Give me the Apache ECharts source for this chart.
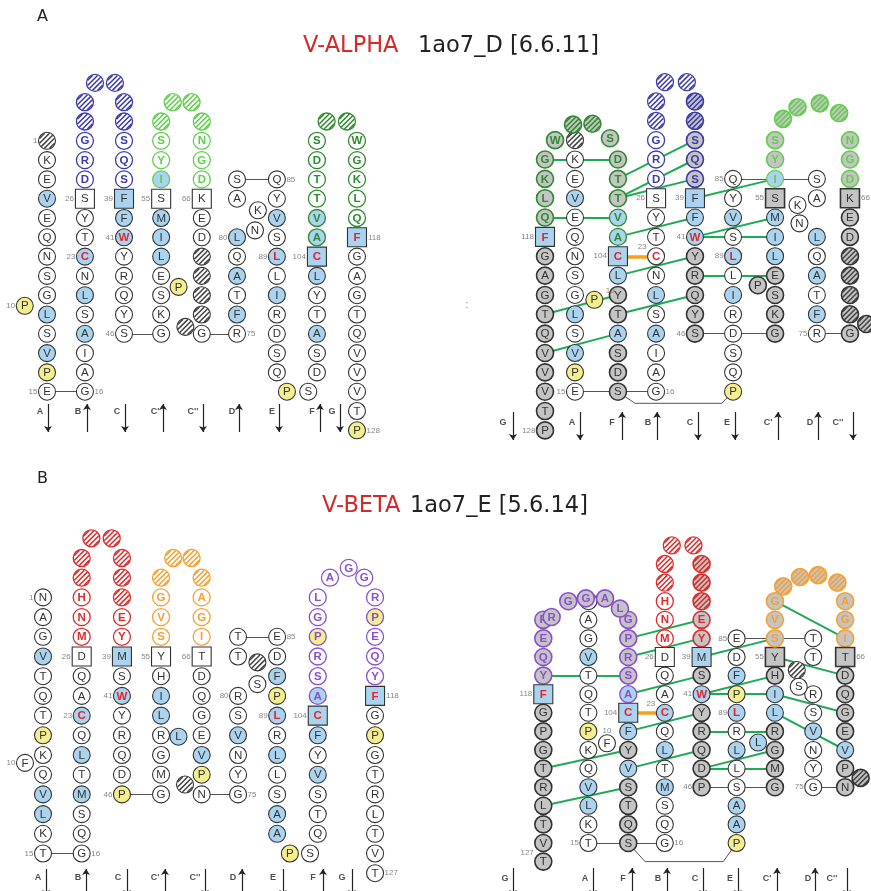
<!DOCTYPE html>
<html><head><meta charset="utf-8">
<script src="https://cdn.jsdelivr.net/npm/echarts@6/dist/echarts.min.js"></script>
<style>html,body{margin:0;padding:0;background:#fff}#c{width:871px;height:891px}</style>
</head><body><div id="c"></div>
<script>
// ================= DATA =================
// CDR colours (CDR1, CDR2, CDR3)
const alphaCdrColors = ['#3b3bab', '#5fcf4c', '#2e8b2e'];
const betaCdrColors  = ['#dd2a2a', '#f5a030', '#8b4fcf'];

// runs: [strand, startRow, direction, sequence, classes, cdr]
// classes: . white, b hydrophobic (blue), y proline (yellow), g front-sheet (grey), h/H gap (hatched),
//          r/R conserved (red letter), q/Q/B/G anchor squares
const alphaLeftRuns = [
  ['A', 13, -1, '#KEVEQNSGLSVPE', 'h..b.....b.by.', 0],
  ['B', 0, 1, 'GAIASLNCTYS', '...b.b.r..q', 0],
  ['B', 11, 1, 'DRG##', '...hh', 1],
  ['C', 15, -1, '##SQS', 'hh...', 1],
  ['C', 10, -1, 'FFWYRQYS', 'Bbr.....', 0],
  ['C1', 3, 1, 'GKSELIMS', '....bbbq', 0],
  ['C1', 11, 1, 'IYS#', 'b..h', 2],
  ['C2', 14, -1, '#NGD', 'h...', 2],
  ['C2', 10, -1, 'KED####G', 'q..hhhh.', 0],
  ['D', 3, 1, 'RFTAQL', '.b.b.b', 0],
  ['D', 10, 1, 'AS', '..', 0],
  ['E', 11, -1, 'QYVSLLIRDSQ', '..b.r.b....', 0],
  ['F', 1, 1, 'DSATYLC', '..b..bQ', 0],
  ['F', 8, 1, 'AVTTDS', 'bb....', 3],
  ['G', 13, -1, 'WGKLQ', '.....', 3],
  ['G', 8, -1, 'FGAGTQVVVTP', 'Q.........y', 0]
];
// extras: [strand, dx, row, letter, class, cdr, key]
const alphaLeftExtras = [
  ['A', -1.15, 4.45, 'P', 'y', 0, 'P10'],
  ['B', 0.52, 16, '#', 'h', 1], ['B', 1.55, 16, '#', 'h', 1],
  ['C1', 0.6, 15, '#', 'h', 2], ['C1', 1.57, 15, '#', 'h', 2],
  ['C1', 0.9, 5.43, 'P', 'y', 0], ['C1', 1.25, 3.36, '#', 'h', 0],
  ['D', 0.93, 8.36, 'N', '.', 0], ['D', 1.08, 9.4, 'K', '.', 0],
  ['E', 0.52, 0, 'P', 'y', 0], ['E', 1.62, 0, 'S', '.', 0],
  ['F', 0.5, 14, '#', 'h', 3], ['F', 1.55, 14, '#', 'h', 3]
];
const alphaLeftLinks = [['A:0', 'B:0'], ['C:3', 'C1:3'], ['C2:3', 'D:3'], ['D:11', 'E:11']];
const alphaLeftNums = [
  ['A:13', '1', 'l'], ['P10', '10', 'l'], ['A:0', '15', 'l'], ['B:0', '16', 'r'], ['B:7', '23', 'l'],
  ['B:10', '26', 'l'], ['C:10', '39', 'l'], ['C:8', '41', 'l'], ['C:3', '46', 'l'], ['C1:10', '55', 'l'],
  ['C2:10', '66', 'l'], ['D:8', '80', 'l'], ['D:3', '75', 'r'], ['E:11', '85', 'r'], ['E:7', '89', 'l'],
  ['F:7', '104', 'l'], ['G:8', '118', 'r'], ['G:-2', '128', 'r']
];

const alphaRightRuns = [
  ['A', 13, -1, '#KEVEQNSGLSVPE', 'h..b.....b.by.', 0],
  ['B', 0, 1, 'GAIASLNCTYS', '...b.b.R..q', 0],
  ['B', 11, 1, 'DRG##', '...hh', 1],
  ['C', 15, -1, '##SQS', 'HHggg', 1],
  ['C', 10, -1, 'FFWYRQYS', 'Bbrggggg', 0],
  ['C1', 3, 1, 'GKSELIMS', 'ggggbbbG', 0],
  ['C1', 11, 1, 'IYS', 'bgg', 2],
  ['C2', 13, -1, 'NGD', 'ggg', 2],
  ['C2', 10, -1, 'KED####G', 'GggHHHHg', 0],
  ['D', 3, 1, 'RFTAQL', '.b.b.b', 0],
  ['D', 10, 1, 'AS', '..', 0],
  ['E', 11, -1, 'QYVSLLIRDSQP', '..b.r.b....y', 0],
  ['F', 0, 1, 'SDSATYLC', 'gggbggbQ', 0],
  ['F', 8, 1, 'AVTTD', 'bbggg', 3],
  ['G', 12, -1, 'GKLQ', 'gggg', 3],
  ['G', 8, -1, 'FGAGTQVVVTP', 'Qgggggggggg', 0]
];
const alphaRightExtras = [
  ['A', 1.0, 4.75, 'P', 'y', 0, 'P10'],
  ['B', 0.46, 16, '#', 'h', 1], ['B', 1.59, 16, '#', 'h', 1],
  ['C1', 0.41, 14.1, '#', 'H', 2], ['C1', 1.16, 14.7, '#', 'H', 2], ['C1', 2.31, 14.9, '#', 'H', 2], ['C1', 3.31, 14.4, '#', 'H', 2],
  ['C1', -0.89, 5.5, 'P', 'g', 0], ['C2', 0.84, 3.5, '#', 'H', 0],
  ['D', -0.9, 8.7, 'N', '.', 0], ['D', -1.0, 9.65, 'K', '.', 0],
  ['F', -0.41, 13.1, 'S', 'g', 3],
  ['G', 0.52, 13, 'W', 'g', 3], ['G', 1.45, 13.8, '#', 'H', 3], ['G', 2.45, 13.85, '#', 'H', 3]
];
const alphaRightLinks = [['A:0', 'B:0'], ['C:3', 'C1:3'], ['D:3', 'C2:3'], ['D:11', 'E:11']];
const alphaRightBracket = ['F:0', 'E:0', 0.88, -0.59, -0.6];
const alphaRightHBonds = [
  ['G:12', 'F:12'], ['G:9', 'F:9'], ['G:4', 'F:5'], ['G:2', 'F:3'],
  ['F:11', 'C:13'], ['F:10', 'C:12'], ['F:10', 'C:11'], ['F:8', 'C:9'], ['F:6', 'C:7'], ['F:4', 'C:5'],
  ['C:10', 'C1:11'], ['C:8', 'C1:9'], ['C:8', 'C1:8'], ['C:6', 'C1:6']
];
const alphaRightSS = [['F:7', 'B:7']];
const alphaRightNums = [
  ['P10', '10', 'tr'], ['A:0', '15', 'l'], ['B:0', '16', 'r'], ['B:7', '23', 'tl'], ['B:10', '26', 'l'],
  ['C:10', '39', 'l'], ['C:8', '41', 'l'], ['C:3', '46', 'l'], ['E:11', '85', 'l'], ['E:7', '89', 'l'],
  ['F:7', '104', 'l'], ['G:8', '118', 'l'], ['G:-2', '128', 'l'], ['C1:10', '55', 'l'], ['C2:10', '66', 'r'], ['D:3', '75', 'l']
];

const betaLeftRuns = [
  ['A', 13, -1, 'NAGVTQTPKQVLKT', '...b...y..bb..', 0],
  ['B', 0, 1, 'GQSMTLQCAQD', '...b.b.r..q', 0],
  ['B', 11, 1, 'MNH##', '...hh', 1],
  ['C', 15, -1, '###EY', 'hhh..', 1],
  ['C', 10, -1, 'MSWYRQDP', 'B.r....y', 0],
  ['C1', 3, 1, 'GMGRLIHY', '....bb.q', 0],
  ['C1', 11, 1, 'SVG#', '...h', 2],
  ['C2', 14, -1, '#AGI', 'h...', 2],
  ['C2', 10, -1, 'TDQGEVPN', 'q....by.', 0],
  ['D', 3, 1, 'GYNVSR', '...b..', 0],
  ['D', 10, 1, 'TT', '..', 0],
  ['E', 11, -1, 'EDFPLRLLSAA', '..byr.b..bb', 0],
  ['F', 1, 1, 'QTSVYFC', '...b.bQ', 0],
  ['F', 8, 1, 'ASRPGL', 'b..y..', 3],
  ['G', 13, -1, 'RPEQY', '.y...', 3],
  ['G', 8, -1, 'FGPGTRLTVT', 'Q.y.......', 0]
];
const betaLeftExtras = [
  ['A', -0.93, 4.6, 'F', '.', 0, 'F10'],
  ['B', 0.5, 16, '#', 'h', 1], ['B', 1.55, 16, '#', 'h', 1],
  ['C1', 0.63, 15, '#', 'h', 2], ['C1', 1.58, 15, '#', 'h', 2],
  ['C1', 0.9, 5.93, 'L', 'b', 0], ['C1', 1.24, 3.5, '#', 'h', 0],
  ['D', 1.0, 8.6, 'S', '.', 0], ['D', 1.0, 9.7, '#', 'h', 0],
  ['E', 0.66, 0, 'P', 'y', 0], ['E', 1.7, 0, 'S', '.', 0],
  ['F', 0.63, 14, 'A', '.', 3], ['F', 1.6, 14.5, 'G', '.', 3], ['F', 2.4, 14, 'G', '.', 3]
];
const betaLeftLinks = [['A:0', 'B:0'], ['C:3', 'C1:3'], ['C2:3', 'D:3'], ['D:11', 'E:11']];
const betaLeftNums = [
  ['A:13', '1', 'l'], ['F10', '10', 'l'], ['A:0', '15', 'l'], ['B:0', '16', 'r'], ['B:7', '23', 'l'],
  ['B:10', '26', 'l'], ['C:10', '39', 'l'], ['C:8', '41', 'l'], ['C:3', '46', 'l'], ['C1:10', '55', 'l'],
  ['C2:10', '66', 'l'], ['D:8', '80', 'l'], ['D:3', '75', 'r'], ['E:11', '85', 'r'], ['E:7', '89', 'l'],
  ['F:7', '104', 'l'], ['G:8', '118', 'r'], ['G:-1', '127', 'r']
];

const betaRightRuns = [
  ['A', 13, -1, 'NAGVTQTPKQVLKT', '...b...y..bb..', 0],
  ['B', 0, 1, 'GQSMTLQCAQD', '...b.b.r..q', 0],
  ['B', 11, 1, 'MNH##', '...hh', 1],
  ['C', 15, -1, '###EY', 'HHHgg', 1],
  ['C', 10, -1, 'MSWYRQDP', 'Bgrggggg', 0],
  ['C1', 3, 1, 'GMGRLIHY', 'ggggbbgG', 0],
  ['C1', 11, 1, 'SVG', 'ggg', 2],
  ['C2', 13, -1, 'AGI', 'ggg', 2],
  ['C2', 10, -1, 'TDQGEVPN', 'Gggggbgg', 0],
  ['D', 3, 1, 'GYNVSR', '...b..', 0],
  ['D', 10, 1, 'TT', '..', 0],
  ['E', 11, -1, 'EDFPLRLLSAAP', '..byr.b..bby', 0],
  ['F', 0, 1, 'SQTSVYFC', 'ggggbgbQ', 0],
  ['F', 8, 1, 'ASRPG', 'bgggg', 3],
  ['G', 12, -1, 'PEQY', 'gggg', 3],
  ['G', 8, -1, 'FGPGTRLTVT', 'Qggggggggg', 0]
];
const betaRightExtras = [
  ['A', 0.96, 5.36, 'F', '.', 0, 'F10'],
  ['B', 0.36, 16, '#', 'h', 1], ['B', 1.48, 16, '#', 'h', 1],
  ['C1', 0.43, 13.8, '#', 'H', 2], ['C1', 1.3, 14.3, '#', 'H', 2], ['C1', 2.23, 14.4, '#', 'H', 2], ['C1', 3.23, 14.0, '#', 'H', 2],
  ['C1', -0.87, 5.4, 'L', 'b', 0], ['C2', 0.8, 3.5, '#', 'H', 0],
  ['D', -0.75, 8.4, 'S', '.', 0], ['D', -0.85, 9.3, '#', 'h', 0],
  ['G', 0.43, 12.15, 'R', 'g', 3], ['G', 1.29, 13.0, 'G', 'g', 3], ['G', 2.2, 13.15, 'G', 'g', 3],
  ['G', 3.19, 13.15, 'A', 'g', 3], ['G', 3.96, 12.6, 'L', 'g', 3]
];
const betaRightLinks = [['A:0', 'B:0'], ['C:3', 'C1:3'], ['D:3', 'C2:3'], ['D:11', 'E:11']];
const betaRightBracket = ['F:0', 'E:0', 0.87, -0.69, -1.0];
const betaRightHBonds = [
  ['G:9', 'F:9'], ['G:4', 'F:5'], ['G:2', 'F:3'],
  ['F:11', 'C:12'], ['F:10', 'C:11'], ['F:8', 'C:9'], ['F:6', 'C:7'], ['F:4', 'C:5'],
  ['C:10', 'C1:11'], ['C:8', 'C1:9'], ['C:8', 'C1:8'], ['C:6', 'C1:6'], ['C:4', 'C1:5'], ['C:4', 'C1:4'],
  ['C1:13', 'C2:11'], ['C1:10', 'C2:9'], ['C1:8', 'C2:7'], ['C1:7', 'C2:5']
];
const betaRightSS = [['F:7', 'B:7']];
const betaRightNums = [
  ['F10', '10', 't'], ['A:0', '15', 'l'], ['B:0', '16', 'r'], ['B:7', '23', 'tl'], ['B:10', '26', 'l'],
  ['C:10', '39', 'l'], ['C:8', '41', 'l'], ['C:3', '46', 'l'], ['E:11', '85', 'l'], ['E:7', '89', 'l'],
  ['F:7', '104', 'l'], ['G:8', '118', 'l'], ['G:-1', '127', 'tl'], ['C1:10', '55', 'l'], ['C2:10', '66', 'r'], ['D:3', '75', 'l']
];

// strand axis labels: [label, direction]
const leftStrandOrder  = [['A', -1], ['B', 1], ['C', -1], ["C'", 1], ["C''", -1], ['D', 1], ['E', -1], ['F', 1], ['G', -1]];
const rightStrandOrder = [['G', -1], ['A', -1], ['F', 1], ['B', 1], ['C', -1], ['E', -1], ["C'", 1], ['D', 1], ["C''", -1]];

const panelLetters = ['A', 'B'];
const chainNames = ['V-ALPHA', 'V-BETA'];
const chainIds = ['1ao7_D [6.6.11]', '1ao7_E [5.6.14]'];

// ================= LAYOUT =================
const U = 19.35;
const panels = [
  { runs: alphaLeftRuns, extras: alphaLeftExtras, cdr: alphaCdrColors, links: alphaLeftLinks, hb: [], ss: [], bracket: null, nums: alphaLeftNums,
    ox: 47, oy: 391.7, ux: U, uy: 19.3,
    cols: { A: 0, B: 1.96, C: 3.98, C1: 5.9, C2: 8, D: 9.82, E: 11.88, F: 13.95, G: 16.02 } },
  { runs: alphaRightRuns, extras: alphaRightExtras, cdr: alphaCdrColors, links: alphaRightLinks, hb: alphaRightHBonds, ss: alphaRightSS, bracket: alphaRightBracket, nums: alphaRightNums,
    ox: 545, oy: 391.7, ux: U, uy: 19.35,
    cols: { G: 0, A: 1.55, F: 3.77, B: 5.74, C: 7.75, E: 9.72, C1: 11.89, D: 14.05, C2: 15.76 } },
  { runs: betaLeftRuns, extras: betaLeftExtras, cdr: betaCdrColors, links: betaLeftLinks, hb: [], ss: [], bracket: null, nums: betaLeftNums,
    ox: 43, oy: 853.5, ux: U, uy: 19.7,
    cols: { A: 0, B: 2.0, C: 4.08, C1: 6.1, C2: 8.2, D: 10.08, E: 12.1, F: 14.2, G: 17.16 } },
  { runs: betaRightRuns, extras: betaRightExtras, cdr: betaCdrColors, links: betaRightLinks, hb: betaRightHBonds, ss: betaRightSS, bracket: betaRightBracket, nums: betaRightNums,
    ox: 543.3, oy: 843, ux: U, uy: 18.6,
    cols: { G: 0, A: 2.33, F: 4.39, B: 6.28, C: 8.18, E: 9.99, C1: 11.97, D: 13.95, C2: 15.6 } }
];
const strandAxes = [
  { order: leftStrandOrder, ly: 412, y1: 404, y2: 432, xs: [[40, 48], [78, 87], [117, 125], [155, 163], [193, 203], [232, 239], [272, 279], [312, 320], [332, 340]] },
  { order: rightStrandOrder, ly: 423, y1: 412, y2: 440, xs: [[503, 513], [572, 580], [612, 622], [648, 657], [690, 698], [727, 735], [768, 778], [810, 818], [838, 853]] },
  { order: leftStrandOrder, ly: 878, y1: 869, y2: 896, xs: [[38, 46], [78, 86], [118, 127], [155, 165], [195, 205], [233, 242], [273, 283], [313, 323], [342, 352]] },
  { order: rightStrandOrder, ly: 879, y1: 868, y2: 896, xs: [[505, 513], [585, 593], [623, 632], [658, 667], [695, 703], [730, 738], [767, 777], [808, 815], [832, 847]] }
];
const titleLayout = [
  { letter: [37, 9], name: [303, 35], id: [418, 35] },
  { letter: [37, 471], name: [322, 495], id: [410, 495] }
];

const FILL = { blue: '#a9d3ee', yellow: '#f3ef8e', gray: '#c4c4c4' };
const R = 8.5, SQ = 19;

function makeItem(p, x, y, ch, cls, cdr) {
  const cc = cdr ? p.cdr[cdr - 1] : null;
  const square = 'qQBG'.includes(cls);
  let fill = '#ffffff';
  if ('bBrQ'.includes(cls)) fill = FILL.blue;
  else if (cls === 'y') fill = FILL.yellow;
  else if ('gGH'.includes(cls)) fill = FILL.gray;
  const hatch = (cls === 'h' || cls === 'H') ? (cc || '#444') : null;
  const front = 'gGH'.includes(cls);
  const red = 'rRQ'.includes(cls);
  return { x, y, text: ch === '#' ? '' : ch, square, fill, hatch,
    stroke: cc || '#333', lw: front ? 1.6 : (cc ? 1.3 : 1.1),
    tc: red ? '#e3262b' : (cc || '#333'), bold: red || !!cc };
}
function build(p) {
  const pos = {}, sq = {}, items = [];
  const add = (key, x, y, ch, cls, cdr) => { pos[key] = [x, y]; sq[key] = 'qQBG'.includes(cls); items.push(makeItem(p, x, y, ch, cls, cdr)); };
  p.runs.forEach(([s, r0, dir, seq, cls, cdr]) => {
    for (let i = 0; i < seq.length; i++) { const r = r0 + dir * i; add(s + ':' + r, p.cols[s], r, seq[i], cls[i], cdr); }
  });
  p.extras.forEach(([s, dx, r, ch, cls, cdr, key], i) => add(key || ('x' + i), p.cols[s] + dx, r, ch, cls, cdr));
  return { pos, sq, items };
}
function residueRenderer(items) {
  return function (params, api) {
    const it = items[params.dataIndex];
    const c = api.coord([it.x, it.y]);
    const cx = c[0], cy = c[1];
    const ch = [];
    if (it.square) {
      ch.push({ type: 'rect', shape: { x: cx - SQ / 2, y: cy - SQ / 2, width: SQ, height: SQ }, style: { fill: it.fill, stroke: it.stroke, lineWidth: it.lw } });
    } else {
      ch.push({ type: 'circle', shape: { cx, cy, r: R }, style: { fill: it.fill, stroke: null } });
      if (it.hatch) {
        const s2 = Math.SQRT1_2, step = 3.5;
        for (let k = -2; k <= 2; k++) {
          const d = k * step; const h = Math.sqrt(Math.max(0, (R - 0.6) * (R - 0.6) - d * d));
          const px = cx + d * s2, py = cy + d * s2;
          ch.push({ type: 'line', shape: { x1: px - h * s2, y1: py + h * s2, x2: px + h * s2, y2: py - h * s2 },
            style: { stroke: it.hatch, lineWidth: 1.5 } });
        }
      }
      ch.push({ type: 'circle', shape: { cx, cy, r: R }, style: { fill: 'none', stroke: it.stroke, lineWidth: it.lw } });
    }
    if (it.text) ch.push({ type: 'text', style: { text: it.text, x: cx, y: cy + 0.5, align: 'center', verticalAlign: 'middle',
      fill: it.tc, font: (it.bold ? 'bold ' : '') + '11.5px "Liberation Sans", Arial, sans-serif' } });
    return { type: 'group', children: ch };
  };
}

const grids = [], xAxes = [], yAxes = [], series = [];
panels.forEach((p, i) => {
  grids.push({ left: 0, top: 0, width: 871, height: 891 });
  xAxes.push({ gridIndex: i, type: 'value', min: -p.ox / p.ux, max: (871 - p.ox) / p.ux, show: false });
  yAxes.push({ gridIndex: i, type: 'value', min: (p.oy - 891) / p.uy, max: p.oy / p.uy, show: false });
  const b = build(p);
  const P = k => { if (!b.pos[k]) console.log('missing', i, k); return b.pos[k]; };
  const common = { type: 'lines', coordinateSystem: 'cartesian2d', xAxisIndex: i, yAxisIndex: i, silent: true, animation: false, z: 1 };
  series.push(Object.assign({}, common, { lineStyle: { color: '#555', width: 1, opacity: 1 }, data: p.links.map(([a, c]) => ({ coords: [P(a), P(c)] })) }));
  if (p.bracket) {
    const [a, c, dxa, dxc, yy] = p.bracket; const pa = P(a), pc = P(c);
    series.push(Object.assign({}, common, { polyline: true, lineStyle: { color: '#555', width: 1, opacity: 1 },
      data: [{ coords: [pa, [pa[0] + dxa, yy], [pc[0] + dxc, yy], pc] }] }));
  }
  if (p.hb.length) series.push(Object.assign({}, common, { z: 2, lineStyle: { color: '#1faa55', width: 2, opacity: 1 }, data: p.hb.map(([a, c]) => ({ coords: [P(a), P(c)] })) }));
  if (p.ss.length) series.push(Object.assign({}, common, { z: 2, lineStyle: { color: '#f5a21e', width: 3.5, opacity: 1 }, data: p.ss.map(([a, c]) => ({ coords: [P(a), P(c)] })) }));
  series.push({ type: 'custom', coordinateSystem: 'cartesian2d', xAxisIndex: i, yAxisIndex: i, silent: true, animation: false, z: 3,
    clip: false, data: b.items.map(it => [it.x, it.y]), renderItem: residueRenderer(b.items) });
  const posMap = { l: ['left', [0, 0]], r: ['right', [0, 0]], t: ['top', [0, 0]], tl: ['left', [0, -9]], tr: ['right', [2, -9]] };
  series.push({ type: 'scatter', xAxisIndex: i, yAxisIndex: i, silent: true, animation: false, z: 4, symbolSize: 0,
    data: p.nums.map(([k, t, s]) => ({ name: t, value: P(k),
      label: { position: posMap[s][0], offset: posMap[s][1], distance: b.sq[k] ? 11 : (s === 't' ? 9 : 9.5) } })),
    label: { show: true, formatter: q => q.name, fontSize: 8, color: '#666', fontFamily: 'Liberation Sans' } });
});
// annotation grid (pixel space)
const ai = panels.length;
grids.push({ left: 0, top: 0, width: 871, height: 891 });
xAxes.push({ gridIndex: ai, type: 'value', min: 0, max: 871, show: false });
yAxes.push({ gridIndex: ai, type: 'value', min: 0, max: 891, inverse: true, show: false });
const labs = [], arrows = [];
strandAxes.forEach(sa => {
  sa.order.forEach(([nm, dir], j) => {
    const [lx, axp] = sa.xs[j];
    labs.push({ name: nm, value: [lx, sa.ly] });
    arrows.push({ coords: dir < 0 ? [[axp, sa.y1], [axp, sa.y2]] : [[axp, sa.y2], [axp, sa.y1]] });
  });
});
labs.push({ name: ':', value: [467, 305], label: { fontSize: 10, fontWeight: 'normal', color: '#555' } });
series.push({ type: 'lines', coordinateSystem: 'cartesian2d', xAxisIndex: ai, yAxisIndex: ai, silent: true, animation: false,
  symbol: ['none', 'arrow'], symbolSize: 6, lineStyle: { color: '#222', width: 1.2, opacity: 1 }, data: arrows });
series.push({ type: 'scatter', xAxisIndex: ai, yAxisIndex: ai, silent: true, animation: false, symbolSize: 0, data: labs,
  label: { show: true, position: 'inside', formatter: q => q.name, fontSize: 9, fontWeight: 'bold', color: '#222', fontFamily: 'Liberation Sans' } });

const titleOpts = [];
panelLetters.forEach((L, i) => {
  const tl = titleLayout[i];
  titleOpts.push({ text: L, left: tl.letter[0], top: tl.letter[1], padding: 0,
    textStyle: { fontSize: 16, fontWeight: 'normal', color: '#222', fontFamily: 'DejaVu Sans' } });
  titleOpts.push({ text: chainNames[i], left: tl.name[0], top: tl.name[1], padding: 0,
    textStyle: { fontSize: 22.5, fontWeight: 'normal', color: '#d42a2a', fontFamily: 'DejaVu Sans' } });
  titleOpts.push({ text: chainIds[i], left: tl.id[0], top: tl.id[1], padding: 0,
    textStyle: { fontSize: 22.5, fontWeight: 'normal', color: '#222', fontFamily: 'DejaVu Sans' } });
});

const chart = echarts.init(document.getElementById('c'), null, { renderer: 'canvas' });
chart.setOption({ animation: false, backgroundColor: '#ffffff', title: titleOpts, grid: grids, xAxis: xAxes, yAxis: yAxes, series: series });
</script></body></html>
